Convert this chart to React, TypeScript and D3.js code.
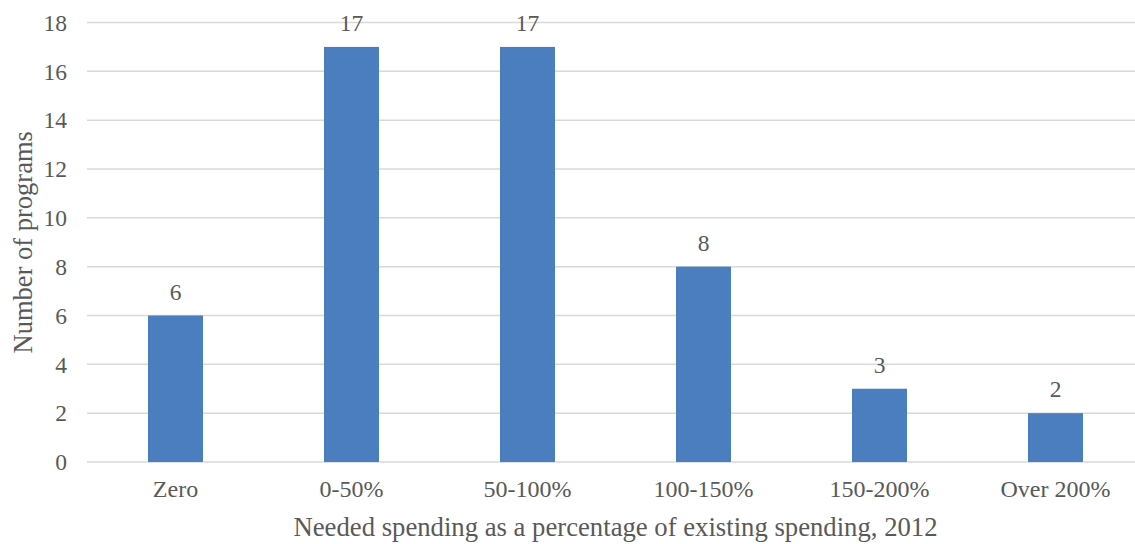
import React from "react";
import * as d3 from "d3";

// Programs grouped by needed spending relative to existing spending (2012)
const categories: string[] = ["Zero", "0-50%", "50-100%", "100-150%", "150-200%", "Over 200%"];
const programCounts: number[] = [6, 17, 17, 8, 3, 2];
const yTicks: number[] = [0, 2, 4, 6, 8, 10, 12, 14, 16, 18];

const W = 1135;
const H = 544;
const FONT = "'Liberation Serif', 'Times New Roman', Times, serif";
const TEXT = "#595959";
const GRID = "#d9d9d9";
const BAR = "#4a7ebf";

export default function App() {
  const x = d3
    .scaleBand<string>()
    .domain(categories)
    .range([87.5, 1143.5])
    .paddingInner(0.6875)
    .paddingOuter(0.34375);
  const y = d3.scaleLinear().domain([0, 18]).range([462, 22.5]);

  const textStyle = { fontFamily: FONT };

  return (
    <svg
      width={W}
      height={H}
      style={{ position: "absolute", left: 0, top: 0, background: "#fff", fontFamily: FONT }}
    >
      {yTicks.map((t) => (
        <g key={t}>
          <line x1={87} x2={W} y1={y(t)} y2={y(t)} stroke={GRID} strokeWidth={1.5} />
          <text x={67} y={y(t)} dy="0.35em" textAnchor="end" fontSize={23.5} fill={TEXT} style={textStyle}>
            {t}
          </text>
        </g>
      ))}
      {categories.map((c, i) => {
        const v = programCounts[i];
        const bx = x(c) as number;
        const cx = bx + x.bandwidth() / 2;
        return (
          <g key={c}>
            <rect x={bx} y={y(v)} width={x.bandwidth()} height={y(0) - y(v)} fill={BAR} />
            <text x={cx} y={y(v) - 16} textAnchor="middle" fontSize={23.5} fill={TEXT} style={textStyle}>
              {v}
            </text>
            <text x={cx} y={497} textAnchor="middle" fontSize={24} fill={TEXT} style={textStyle}>
              {c}
            </text>
          </g>
        );
      })}
      <text x={615.5} y={536} textAnchor="middle" fontSize={26.7} fill={TEXT} style={textStyle}>
        Needed spending as a percentage of existing spending, 2012
      </text>
      <text
        transform={`translate(32, ${(y(0) + y(18)) / 2}) rotate(-90)`}
        textAnchor="middle"
        fontSize={26.5}
        fill={TEXT}
        style={textStyle}
      >
        Number of programs
      </text>
    </svg>
  );
}
